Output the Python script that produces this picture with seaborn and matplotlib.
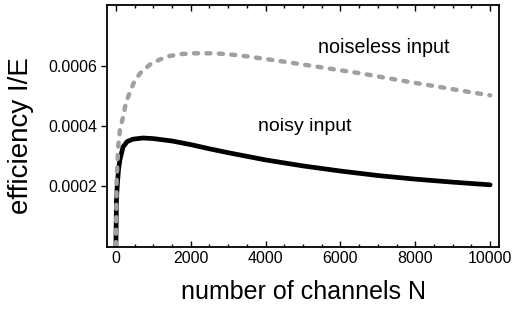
import numpy as np
import pandas as pd
import matplotlib
matplotlib.use('Agg')
import matplotlib.pyplot as plt
import seaborn as sns

# valores
n_noisy = [0, 15, 35, 70, 107, 190, 300, 450, 720, 1000, 1500, 2000, 2500, 3000, 3500,
           4000, 5000, 6000, 7000, 8000, 9000, 10000]
eff_noisy = [0, 0.000150, 0.000200, 0.000255, 0.000287, 0.000330, 0.000348, 0.000356,
             0.000360, 0.000358, 0.000350, 0.000338, 0.000324, 0.000311, 0.000299,
             0.000287, 0.000267, 0.000250, 0.000235, 0.000223, 0.000213, 0.000204]

n_clean = [0, 20, 62, 107, 195, 267, 374, 508, 687, 954, 1355, 1700, 2100, 2600, 3000,
           3500, 4500, 5500, 6500, 7500, 8500, 9500, 10000]
eff_clean = [0, 0.000220, 0.000331, 0.000387, 0.000431, 0.000477, 0.000513, 0.000553,
             0.000581, 0.000609, 0.000631, 0.000639, 0.000642, 0.000642, 0.000639,
             0.000632, 0.000614, 0.000595, 0.000576, 0.000554, 0.000533, 0.000512, 0.000502]

df = pd.concat([
    pd.DataFrame({'N': n_noisy, 'eff': eff_noisy, 'tipo': 'noisy input'}),
    pd.DataFrame({'N': n_clean, 'eff': eff_clean, 'tipo': 'noiseless input'}),
])

sns.set_style("ticks", {'axes.edgecolor': 'black', 'text.color': 'black',
                        'xtick.color': 'black', 'ytick.color': 'black',
                        'axes.labelcolor': 'black'})
plt.rcParams['font.family'] = ['Liberation Sans', 'DejaVu Sans']

fig = plt.figure(figsize=(5.14, 3.09), dpi=100)
ax = fig.add_axes([0.208, 0.2006, 0.763, 0.7834])

sns.lineplot(data=df[df['tipo'] == 'noisy input'], x='N', y='eff', color='black',
             lw=3.4, ax=ax, legend=False)
sns.lineplot(data=df[df['tipo'] == 'noiseless input'], x='N', y='eff', color='#a0a0a0',
             lw=3.2, ax=ax, legend=False)
ax.lines[-1].set_dashes([0.9, 1.9])
ax.lines[-1].set_dash_capstyle('round')

ax.set_xlim(-240, 10240)
ax.set_ylim(-0.000003, 0.000803)
ax.set_xticks([0, 2000, 4000, 6000, 8000, 10000])
ax.set_xticks(np.arange(0, 10001, 500), minor=True)
ax.set_yticks([0.0002, 0.0004, 0.0006])
ax.set_yticklabels(['0.0002', '0.0004', '0.0006'])

ax.tick_params(axis='x', which='both', direction='in', top=True, width=1)
ax.tick_params(axis='x', which='major', length=4)
ax.tick_params(axis='x', which='minor', length=2.5)
ax.tick_params(axis='y', which='major', direction='out', length=4, width=1)
ax.tick_params(labelsize=11.5, pad=3)
for s in ax.spines.values():
    s.set_linewidth(1.3)

ax.text(7166, 0.00066, 'noiseless input', fontsize=14.2, ha='center', va='center')
ax.text(5053, 0.000397, 'noisy input', fontsize=14, ha='center', va='center')

ax.set_xlabel('number of channels N', fontsize=18, labelpad=10)
ax.set_ylabel('efficiency I/E', fontsize=20)
ax.yaxis.set_label_coords(-0.187, 0.46)

fig.savefig('out.png', dpi=100)
